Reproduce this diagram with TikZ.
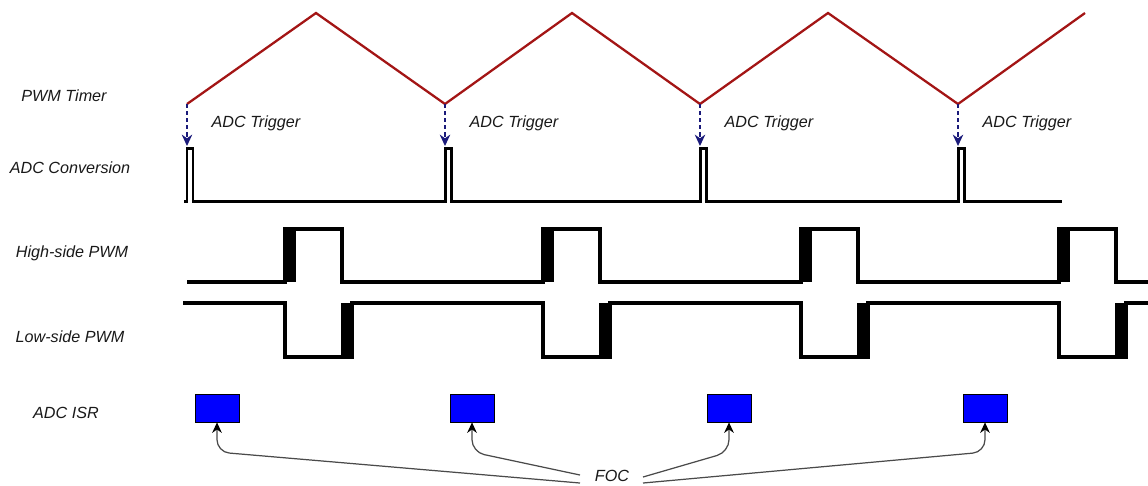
\documentclass[tikz,border=0pt]{standalone}
\usepackage{fontspec}
\setsansfont{Liberation Sans}
\usetikzlibrary{arrows.meta,calc}
\definecolor{TimerRed}{HTML}{A31515}
\definecolor{TrigBlue}{HTML}{1A1A7A}
\definecolor{IsrBlue}{HTML}{0000FF}
\definecolor{LinkGray}{HTML}{4A4A4A}

\begin{document}
\begin{tikzpicture}[x=0.02cm,y=-0.02cm]
    \tikzset{lbl/.style={font=\sffamily\itshape\fontsize{9.2}{11}\selectfont,text=black!90},
      wave/.style={line width=2pt,line join=miter},
      isr/.style={draw=black,fill=IsrBlue,minimum width=0.88cm,minimum height=0.56cm,inner sep=0pt},
      fc/.style={LinkGray,line width=0.7pt,rounded corners=7pt,-{Stealth[black,length=6pt,width=5.5pt]}},
      trig/.style={TrigBlue,line width=0.7pt,dash pattern=on 2.5pt off 1.5pt,-{Stealth[length=6.5pt,width=6pt]}}}
    \useasboundingbox (0,0) rectangle (1148,485);
    % row labels
    \node[lbl] (ltimer) at (64,96) {PWM Timer};
    \node[lbl] (ladc) at (70,168) {ADC Conversion};
    \node[lbl] (lhigh) at (72,253) {High-side PWM};
    \node[lbl] (llow) at (70,337) {Low-side PWM};
    \node[lbl] (lisr) at (66,413) {ADC ISR};
    % timer ramp
    \draw[TimerRed,line width=1.3pt,line join=miter] (187,104) -- (316,13) -- (445,104) -- (572,13)
      -- (700,104) -- (828,13) -- (958,104) -- (1085,13);
    % triggers
    \foreach \v [count=\i] in {187,445,700,958} {
      \coordinate (tv\i) at (\v,104);
      \coordinate (tp\i) at (\v,146);
      \draw[trig] (tv\i) -- (tp\i);
      \node[lbl] (trg\i) at (\v+69,123) {ADC Trigger};
    }
    % conversions
    \draw[line width=1.7pt,line join=miter] (184,201)
      \foreach \v in {187,445,700,958} { -- (\v,201) -- (\v,148) -- (\v+6,148) -- (\v+6,201) } -- (1062,201);
    % gate signals
    \draw[wave] (187,282)
      \foreach \p in {285,543,801,1059} { -- (\p,282) -- (\p,229) -- (\p+57,229) -- (\p+57,282) } -- (1148,282);
    \draw[wave] (183,303)
      \foreach \p in {285,543,801,1059} { -- (\p,303) -- (\p,357) -- (\p+67,357) -- (\p+67,303) } -- (1148,303);
    \foreach \p in {285,543,801,1059} {
      \fill (\p,229) rectangle (\p+11,282);
      \fill (\p+56,303) rectangle (\p+67,357);
    }
    % ISR slots
    \foreach \b [count=\i] in {217,472,729,985}
      \node[isr] (isr\i) at (\b,408) {};
    \node[lbl] (foc) at (612,476) {FOC};
    \draw[fc] ([shift={(-32,7)}]foc.center) -- (isr1.south |- 0,452) -- (isr1.south);
    \draw[fc] ([shift={(-32,-1)}]foc.center) -- (isr2.south |- 0,452) -- (isr2.south);
    \draw[fc] ([shift={(31,1)}]foc.center) -- (isr3.south |- 0,452) -- (isr3.south);
    \draw[fc] ([shift={(31,7)}]foc.center) -- (isr4.south |- 0,452) -- (isr4.south);
  \end{tikzpicture}
\end{document}
